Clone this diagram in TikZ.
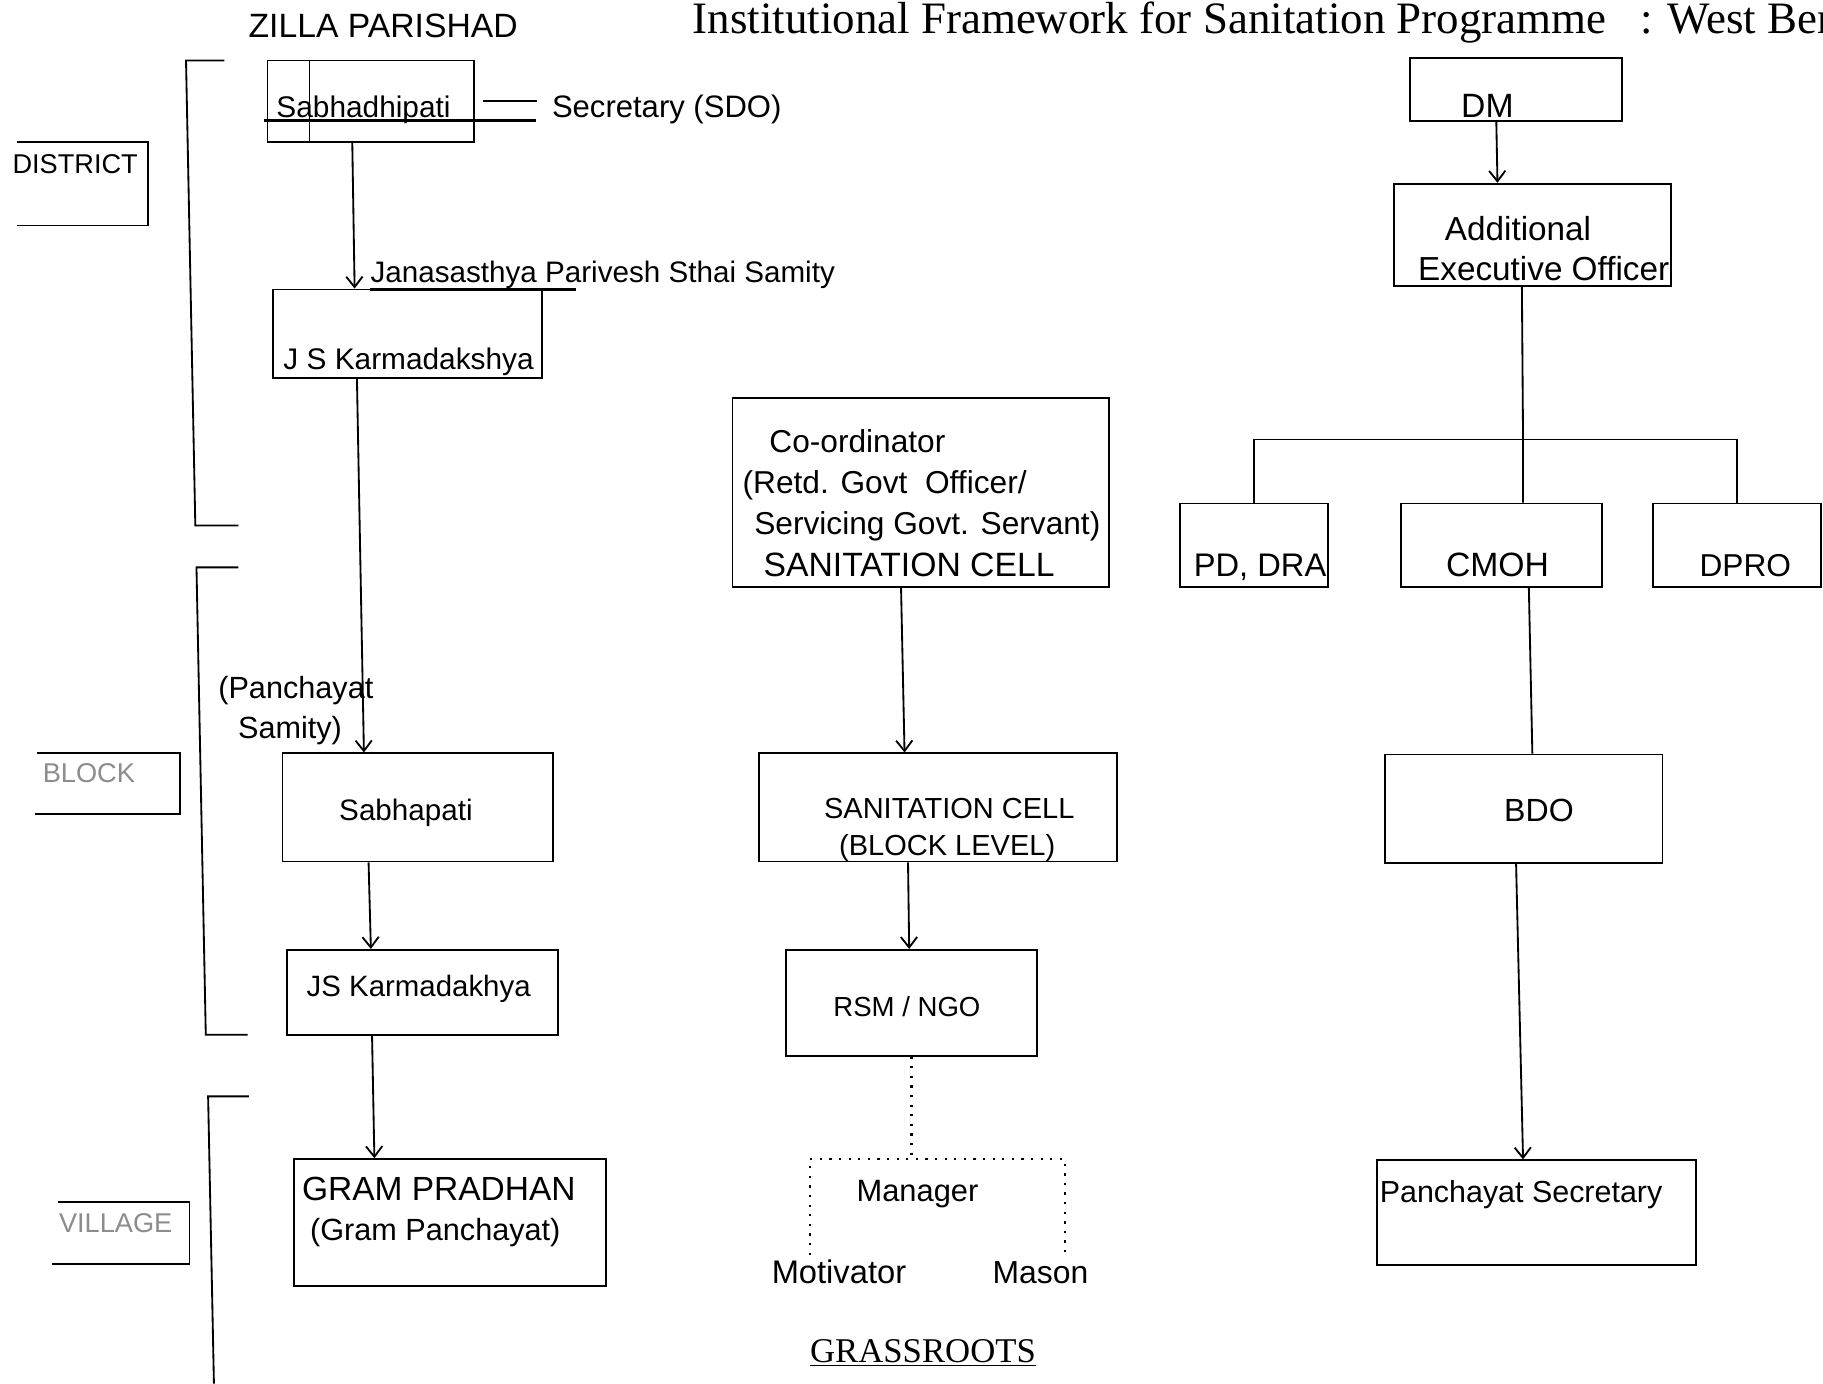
\documentclass[tikz,border=0pt]{standalone}
\usepackage{fontspec}
\setmainfont{Liberation Sans}
\newfontfamily\titleface{Liberation Serif}
\usepackage{tikz}
\usetikzlibrary{arrows.meta}
\newcommand{\fsz}[1]{\fontsize{#1}{#1}\selectfont}

\begin{document}
\begin{tikzpicture}[x=0.02cm, y=-0.02cm, line width=0.9pt,
    >={Straight Barb[length=1.8mm, width=2.8mm]},
    orgbox/.style={draw, inner sep=0pt},
    txt/.style={inner sep=0pt, anchor=base west},
    blk/.style={inner sep=0pt, anchor=north west, align=left},
    uline/.style={line width=1.5pt},
    dotline/.style={line width=1.1pt, dash pattern=on 1.1pt off 3.6pt},
    faint/.style={text=black!45}]
    \useasboundingbox (0,0) rectangle (1568,1190);
    \clip (0,0) rectangle (1568,1190);

    \node[txt, font=\titleface\fsz{22}] (title) at (595,29)
        {Institutional Framework for Sanitation Programme \ \ : West Bengal};
    \node[txt, font=\fsz{16.5}] (zp) at (213,32) {ZILLA PARISHAD};

    % levels
    \draw (15,122) -| (127,194) -- (15,194);
    \draw (32,648) -| (155,700) -- (30,700);
    \draw (50,1034) -| (163,1087) -- (45,1087);
    \node[txt, font=\fsz{13.3}] (district) at (10,149) {DISTRICT};
    \node[txt, faint, font=\fsz{13.3}] (block) at (36,673) {BLOCK};
    \node[txt, faint, font=\fsz{13.3}] (village) at (50,1060) {VILLAGE};
    \draw (193,52) -- (160,52) -- (168,452) -- (205,452);
    \draw (205,488) -- (169,488) -- (177,890) -- (213,890);
    \draw (214,943) -- (179,943) -- (184,1190);

    % boxes
    \node[orgbox, minimum width=3.56cm, minimum height=1.40cm] (sabha) at (319,87) {};
    \node[orgbox, minimum width=4.62cm, minimum height=1.52cm] (jsk1) at (350.5,287) {};
    \node[orgbox, minimum width=4.66cm, minimum height=1.86cm] (sabhapati) at (359.5,694.5) {};
    \node[orgbox, minimum width=4.66cm, minimum height=1.46cm] (jsk2) at (363.5,853.5) {};
    \node[orgbox, minimum width=5.36cm, minimum height=2.18cm] (gram) at (387,1051.5) {};
    \node[orgbox, minimum width=6.48cm, minimum height=3.26cm] (coord) at (792,423.5) {};
    \node[orgbox, minimum width=6.16cm, minimum height=1.86cm] (cell) at (807,694.5) {};
    \node[orgbox, minimum width=4.32cm, minimum height=1.82cm] (rsm) at (784,862.5) {};
    \node[orgbox, minimum width=3.64cm, minimum height=1.08cm] (dm) at (1304,77) {};
    \node[orgbox, minimum width=4.76cm, minimum height=1.76cm] (aeo) at (1318,202) {};
    \node[orgbox, minimum width=2.54cm, minimum height=1.44cm] (pddra) at (1078.5,469) {};
    \node[orgbox, minimum width=3.46cm, minimum height=1.44cm] (cmoh) at (1291.5,469) {};
    \node[orgbox, minimum width=2.88cm, minimum height=1.44cm] (dpro) at (1494,469) {};
    \node[orgbox, minimum width=4.78cm, minimum height=1.86cm] (bdo) at (1310.5,695.5) {};
    \node[orgbox, minimum width=5.50cm, minimum height=1.80cm] (psec) at (1321.5,1043) {};
    \draw ([xshift=0.74cm]sabha.north west) -- ([xshift=0.74cm]sabha.south west);

    % texts
    \node[txt, font=\fsz{14.6}] (sabhatext) at (237,101) {Sabhadhipati};
    \node[txt, font=\fsz{15.2}] (sdo) at (474,101) {Secretary (SDO)};
    \node[txt, font=\fsz{14.5}] (jpss) at (318,243) {Janasasthya Parivesh Sthai Samity};
    \node[txt, font=\fsz{14.6}] (jsk1text) at (243,318) {\underline{J S Karmadakshya}};
    \node[blk, font=\fontsize{15}{19.35}\selectfont] (pstext) at (187,581)
        {(Panchayat\\\hspace*{0.34cm}Samity)};
    \node[txt, font=\fsz{14.5}] (sabhapatitext) at (291,706) {Sabhapati};
    \node[txt, font=\fsz{14.4}] (jsk2text) at (263,857) {JS Karmadakhya};
    \node[blk, font=\fontsize{16.4}{19.35}\selectfont] (gramtext) at (259,1012)
        {GRAM PRADHAN\\\hspace*{0.14cm}{\fontsize{15}{19.35}\selectfont(Gram Panchayat)}};
    \node[blk, font=\fontsize{15.5}{20.1}\selectfont] (coordtext) at (638,369)
        {\hspace*{0.46cm}Co-ordinator\\(Retd. Govt\ \ Officer/\\\hspace*{0.2cm}Servicing Govt. Servant)\\\hspace*{0.36cm}{\fontsize{16.5}{20.1}\selectfont SANITATION CELL}};
    \node[blk, font=\fontsize{14.2}{18.2}\selectfont] (celltext) at (708,686)
        {SANITATION CELL\\\hspace*{0.26cm}(BLOCK LEVEL)};
    \node[txt, font=\fsz{13.5}] (rsmtext) at (716,874) {RSM / NGO};
    \node[txt, font=\fsz{15.1}] (manager) at (736,1033) {Manager};
    \node[txt, font=\fsz{16}] (motivator) at (663,1104) {Motivator};
    \node[txt, font=\fsz{15.6}] (mason) at (853,1104) {Mason};
    \node[txt, font=\titleface\fsz{17}] (grass) at (696,1172) {\underline{GRASSROOTS}};
    \node[txt, font=\fsz{16.5}] (dmtext) at (1256,101) {DM};
    \node[blk, font=\fontsize{16.3}{19.9}\selectfont] (aeotext) at (1219,185)
        {\hspace*{0.46cm}Additional\\Executive Officer};
    \node[txt, font=\fsz{16}] (pddratext) at (1026,496) {PD, DRA};
    \node[txt, font=\fsz{16.5}] (cmohtext) at (1243,496) {CMOH};
    \node[txt, font=\fsz{15.5}] (dprotext) at (1461,496) {DPRO};
    \node[txt, font=\fsz{15.7}] (bdotext) at (1293,707) {BDO};
    \node[txt, font=\fsz{14.9}] (psectext) at (1186,1034) {Panchayat Secretary};

    \coordinate (split) at (1310,378);
    \coordinate (mgrjoin) at (784,997);

    % connectors
    \draw[shorten <=0.14cm, shorten >=0.24cm] (sabha.east) -- (sdo.west |- sabha.east);
    \draw[uline] ([shift={(-2,17)}]sabha.west) -- ++(234,0);
    \draw[uline] (jpss.base west) ++(0,6) -- ++(177,0);
    \draw[->] ([xshift=-0.32cm]sabha.south) -- ([xshift=-0.91cm]jsk1.north);
    \draw[->] ([xshift=-0.87cm]jsk1.south) -- ([xshift=-0.93cm]sabhapati.north);
    \draw[->] ([xshift=-0.85cm]sabhapati.south) -- ([xshift=-0.89cm]jsk2.north);
    \draw[->] ([xshift=-0.87cm]jsk2.south) -- ([xshift=-1.30cm]gram.north);
    \draw[->] ([xshift=-0.34cm]coord.south) -- ([xshift=-0.58cm]cell.north);
    \draw[->] ([xshift=-0.52cm]cell.south) -- ([xshift=-0.04cm]rsm.north);
    \draw[dotline] (rsm.south) -- (mgrjoin);
    \draw[dotline, shorten <=2pt, shorten >=2pt] ([xshift=-0.5cm]motivator.north) |- (mgrjoin) -| ([xshift=0.42cm]mason.north);
    \draw[->] ([xshift=-0.34cm]dm.south) -- ([xshift=-0.60cm]aeo.north);
    \draw ([xshift=-0.18cm]aeo.south) -- (split);
    \draw (pddra.north) |- (split) -| (dpro.north);
    \draw (split) -- ([xshift=0.37cm]cmoh.north);
    \draw ([xshift=0.47cm]cmoh.south) -- ([xshift=0.15cm]bdo.north);
    \draw[->] ([xshift=-0.13cm]bdo.south) -- ([xshift=-0.23cm]psec.north);
\end{tikzpicture}
\end{document}
